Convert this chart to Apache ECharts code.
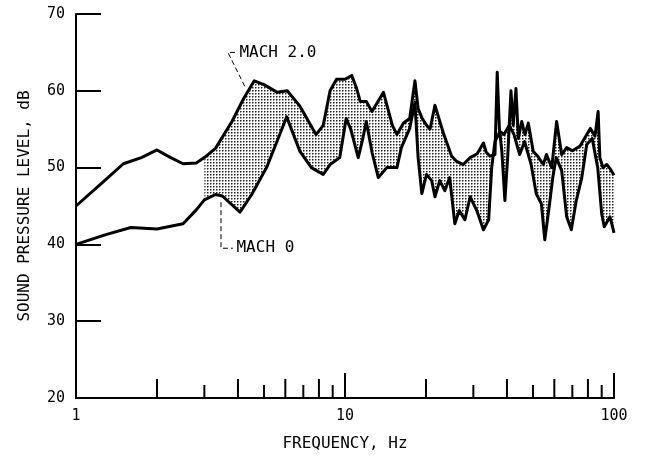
<!DOCTYPE html>
<html>
<head>
<meta charset="utf-8">
<script src="https://cdn.jsdelivr.net/npm/echarts@6/dist/echarts.min.js"></script>
<style>html,body{margin:0;padding:0;background:#fff}#c{width:645px;height:457px}</style>
</head>
<body>
<div id="c"></div>
<script>
// ---- data ----
const mach2Freq = [1,1.25,1.5,1.75,2.0,2.25,2.5,2.8,3.0,3.3,3.8,4.2,4.6,5.0,5.6,6.1,6.8,7.8,8.3,8.8,9.3,10.0,10.6,11.0,11.4,12.0,12.6,13.9,15.0,15.6,16.5,17.4,18.2,18.7,19.3,20.1,20.7,21.6,23.2,24.9,26.0,27.5,29.2,31.0,32.7,33.5,34.6,36.1,36.8,37.5,38.3,39.3,40.3,41.4,42.2,43.2,44.1,45.4,46.7,48.0,50.1,52.0,54.6,56.1,58.7,61.2,63.9,66.7,70.0,74.8,79.2,81.7,85.0,87.3,88.6,91.0,94.0,97.0,100];
const mach2Val  = [45.0,48.0,50.5,51.3,52.3,51.3,50.5,50.6,51.3,52.5,56.0,59.0,61.3,60.8,59.8,60.0,58.0,54.3,55.5,60.0,61.5,61.5,62.0,60.5,58.6,58.6,57.3,59.8,55.5,54.3,55.8,56.4,61.3,57.7,56.5,55.5,55.0,58.1,54.5,51.5,50.8,50.4,51.3,51.8,53.2,52.0,51.5,51.7,62.4,55.0,52.1,45.7,51.7,60.0,55.5,60.3,53.8,56.0,54.3,55.8,52.1,51.5,50.4,51.7,50.0,56.0,51.7,52.6,52.2,52.8,54.3,55.1,54.1,57.3,51.3,50.0,50.4,49.8,49.0];
const mach0Freq = [1,1.3,1.6,2.0,2.5,2.8,3.0,3.3,3.5,4.07,4.5,5.11,5.6,6.07,6.8,7.5,8.3,8.8,9.56,10.1,10.5,11.2,11.6,12.0,12.6,13.3,14.3,15.6,16.2,17.4,18.2,18.7,19.3,20.1,21.0,21.6,22.5,23.5,24.5,25.6,26.6,27.9,29.2,30.9,32.7,34.2,35.1,36.1,37.7,39.0,40.8,42.5,44.6,46.5,49.2,51.4,53.7,55.3,57.6,59.2,61.0,63.9,66.7,69.4,72.4,75.9,79.2,83.0,87.0,90.0,92.0,96.6,99.4,100];
const mach0Val  = [40.0,41.3,42.2,42.0,42.7,44.5,45.8,46.5,46.3,44.2,46.5,50.0,53.5,56.6,52.1,50.0,49.1,50.4,51.3,56.4,55.0,51.3,53.5,56.0,52.0,48.7,50.0,50.0,52.6,55.1,58.5,51.3,46.6,49.1,48.3,46.2,48.3,47.0,48.7,42.7,44.4,43.2,46.2,44.4,41.9,43.2,50.0,53.4,54.7,54.3,55.5,54.3,51.7,53.4,50.4,46.6,45.3,40.6,45.3,48.7,51.3,49.6,43.6,41.9,45.7,48.7,53.0,53.8,50.0,44.0,42.3,43.6,41.9,41.5];
const shadeFrom = 3;               // shaded band starts at 3 Hz
const xMinorTicks = [2,3,4,5,6,7,8,9,10,20,30,40,50,60,70,80,90,100];
const xLabels = [1,10,100];
const yTicks = [20,30,40,50,60,70];
const labelMach2 = 'MACH 2.0';
const labelMach0 = 'MACH 0';
// annotation anchors in data space [freq, dB]
const anno2 = {elbow:[3.67,65.0], hEnd:[3.90,65.0], tip:[4.25,60.5], text:[4.05,65.0]};
const anno0 = {top:[3.46,45.5], elbow:[3.46,39.5], hEnd:[3.83,39.5], text:[3.95,39.5]};

// ---- build ----
const FONT = '"DejaVu Sans Mono", "Liberation Mono", monospace';
const pat = document.createElement('canvas'); pat.width = 3; pat.height = 3;
const pc = pat.getContext('2d');
pc.fillStyle = '#fff'; pc.fillRect(0,0,3,3);
pc.fillStyle = '#222'; pc.fillRect(0,0,1,1);
pc.fillStyle = '#8a8a8a'; pc.fillRect(1,0,1,1); pc.fillRect(0,1,1,1);
pc.fillStyle = '#d8d8d8'; pc.fillRect(1,1,1,1);

const pairs = (fs, vs) => fs.map((f,i) => [f, vs[i]]);
const m2 = pairs(mach2Freq, mach2Val);
const m0 = pairs(mach0Freq, mach0Val);
const bandTop = m2.filter(p => p[0] >= shadeFrom);
const bandBot = m0.filter(p => p[0] >= shadeFrom).reverse();

function tickLen(v){
  const lg = Math.log10(v);
  if (Math.abs(lg - Math.round(lg)) < 1e-9) return 25;
  const lead = Math.round(v / Math.pow(10, Math.floor(lg)));
  return lead % 2 === 0 ? 19 : 13;
}

const chart = echarts.init(document.getElementById('c'), null, {renderer:'canvas'});
chart.setOption({
  animation:false,
  backgroundColor:'#fff',
  grid:{left:76, right:31, top:14, bottom:53, containLabel:false},
  xAxis:{
    type:'log', logBase:10, min:1, max:100,
    axisLine:{show:true, onZero:false, lineStyle:{color:'#000', width:2}},
    axisTick:{show:false}, minorTick:{show:false},
    splitLine:{show:false}, minorSplitLine:{show:false},
    axisLabel:{color:'#000', fontSize:15, fontFamily:FONT, margin:11,
      formatter: v => (xLabels.indexOf(Math.round(v)) >= 0 ? String(Math.round(v)) : '')},
    name:'FREQUENCY, Hz', nameLocation:'middle', nameGap:38,
    nameTextStyle:{color:'#000', fontSize:16, fontFamily:FONT}
  },
  yAxis:{
    type:'value', min:yTicks[0], max:yTicks[yTicks.length-1], interval:10,
    axisLine:{show:true, lineStyle:{color:'#000', width:2}},
    axisTick:{show:true, inside:true, length:25, lineStyle:{color:'#000', width:2}},
    splitLine:{show:false},
    axisLabel:{color:'#000', fontSize:15, fontFamily:FONT, margin:11},
    name:'SOUND PRESSURE LEVEL, dB', nameLocation:'middle', nameRotate:90, nameGap:43,
    nameTextStyle:{color:'#000', fontSize:16, fontFamily:FONT}
  },
  series:[
    {
      type:'custom', z:1, silent:true, clip:false,
      data:[[10,50]],
      renderItem:(params, api) => {
        const pts = bandTop.concat(bandBot).map(p => api.coord(p));
        return {type:'polygon', shape:{points:pts}, style:{fill:{image:pat, repeat:'repeat'}, stroke:null}};
      }
    },
    {
      name:labelMach2, type:'line', z:3, data:m2, showSymbol:false, smooth:false,
      lineStyle:{color:'#000', width:3, join:'round'}
    },
    {
      name:labelMach0, type:'line', z:3, data:m0, showSymbol:false, smooth:false,
      lineStyle:{color:'#000', width:3, join:'round'}
    },
    {
      type:'custom', z:4, silent:true, clip:false,
      data:xMinorTicks.map(v => [v, yTicks[0]]),
      renderItem:(params, api) => {
        const v = api.value(0);
        const p = api.coord([v, yTicks[0]]);
        return {type:'line', shape:{x1:p[0], y1:p[1], x2:p[0], y2:p[1]-tickLen(v)},
                style:{stroke:'#000', lineWidth:2, fill:null}};
      }
    },
    {
      type:'custom', z:5, silent:true, clip:false,
      data:[[10,50]],
      renderItem:(params, api) => {
        const c = p => api.coord(p);
        const dash = {stroke:'#000', fill:'rgba(0,0,0,0)', lineWidth:1, lineDash:[5,3]};
        const e2 = c(anno2.elbow), h2 = c(anno2.hEnd), t2 = c(anno2.tip), x2 = c(anno2.text);
        const a0 = c(anno0.top), e0 = c(anno0.elbow), h0 = c(anno0.hEnd), x0 = c(anno0.text);
        return {type:'group', children:[
          {type:'polyline', shape:{points:[h2, e2, t2]}, style:dash},
          {type:'text', x:x2[0], y:x2[1], style:{text:labelMach2, font:'16px '+FONT, fill:'#000', align:'left', verticalAlign:'middle'}},
          {type:'polyline', shape:{points:[a0, e0, h0]}, style:dash},
          {type:'text', x:x0[0], y:x0[1], style:{text:labelMach0, font:'16px '+FONT, fill:'#000', align:'left', verticalAlign:'middle'}}
        ]};
      }
    }
  ]
});
</script>
</body>
</html>
